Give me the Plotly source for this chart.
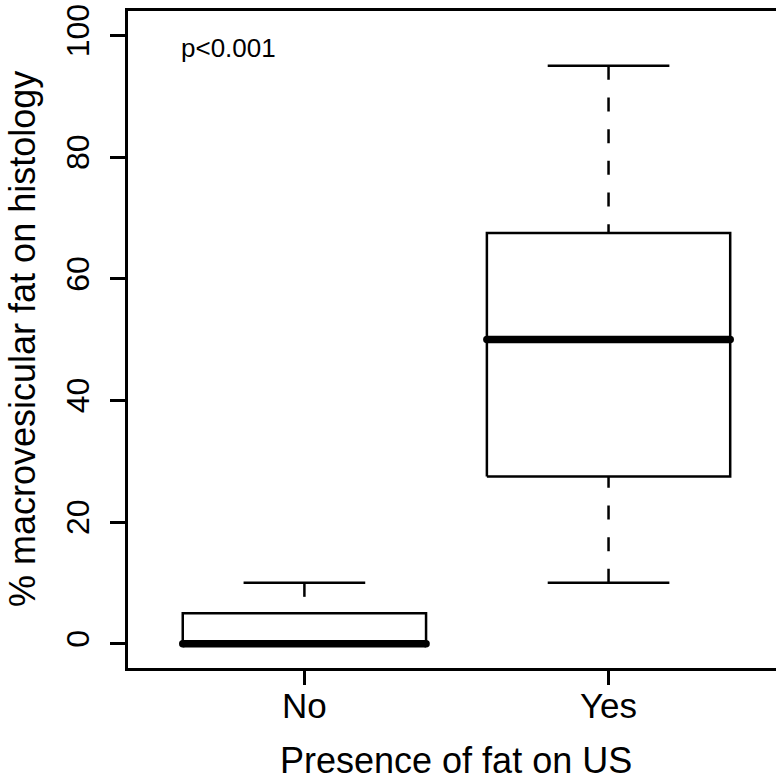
import plotly.graph_objects as go

# ---- data ----
groups = ["No", "Yes"]
positions = [1, 2]
lower_whisker = [0, 10]
q1 = [0, 27.5]
median = [0, 50]
q3 = [5, 67.5]
upper_whisker = [10, 95]
y_ticks = [0, 20, 40, 60, 80, 100]
p_text = "p<0.001"
x_title = "Presence of fat on US"
y_title = "% macrovesicular fat on histology"

# ---- style ----
BOX_HALF = 0.4
CAP_HALF = 0.2
LW = 2.5
FONT = "Liberation Sans, Arial, Helvetica, sans-serif"
BLACK = "black"

fig = go.Figure()
for c, lo, a, m, b, hi in zip(positions, lower_whisker, q1, median, q3, upper_whisker):
    dash = dict(color=BLACK, width=LW, dash="14px,17.7px")
    # whiskers (drawn from the whisker end toward the hinge, like R)
    fig.add_trace(go.Scatter(x=[c, c], y=[hi, b], mode="lines", line=dash,
                             hoverinfo="skip", showlegend=False))
    fig.add_trace(go.Scatter(x=[c, c], y=[lo, a], mode="lines", line=dash,
                             hoverinfo="skip", showlegend=False))
    # staples
    for v in (hi, lo):
        fig.add_trace(go.Scatter(x=[c - CAP_HALF, c + CAP_HALF], y=[v, v], mode="lines",
                                 line=dict(color=BLACK, width=LW),
                                 hoverinfo="skip", showlegend=False))
    # box
    fig.add_trace(go.Scatter(x=[c - BOX_HALF, c + BOX_HALF, c + BOX_HALF, c - BOX_HALF, c - BOX_HALF],
                             y=[a, a, b, b, a], mode="lines",
                             line=dict(color=BLACK, width=LW),
                             fill="toself", fillcolor="white",
                             hoverinfo="skip", showlegend=False))
    # median
    fig.add_trace(go.Scatter(x=[c - BOX_HALF, c + BOX_HALF], y=[m, m], mode="lines+markers",
                             line=dict(color=BLACK, width=7.5),
                             marker=dict(color=BLACK, size=7.5, symbol="circle"),
                             hoverinfo="skip", showlegend=False))

fig.add_annotation(x=0.75, y=98, xref="x", yref="y", text=p_text, showarrow=False,
                   font=dict(family=FONT, size=26, color=BLACK),
                   xanchor="center", yanchor="middle")
fig.add_annotation(x=1.5, y=0, xref="x", yref="paper", text=x_title, showarrow=False,
                   font=dict(family=FONT, size=36, color=BLACK),
                   xanchor="center", yanchor="top", yshift=-70)
fig.add_annotation(x=0, y=0.5, xref="paper", yref="paper", text=y_title, showarrow=False,
                   font=dict(family=FONT, size=36, color=BLACK), textangle=-90,
                   xanchor="right", yanchor="middle", xshift=-83)

fig.update_layout(
    width=776, height=781,
    margin=dict(l=128, r=0, t=11, b=113),
    paper_bgcolor="white", plot_bgcolor="white",
    font=dict(family=FONT, size=35, color=BLACK),
    showlegend=False,
    xaxis=dict(range=[0.42, 2.5506], tickvals=positions, ticktext=groups,
               ticks="outside", ticklen=14, tickwidth=LW, tickcolor=BLACK,
               showline=True, linecolor=BLACK, linewidth=LW, mirror=True,
               showgrid=False, zeroline=False, tickfont=dict(size=35),
               automargin=False, ticklabelstandoff=-9),
    yaxis=dict(range=[-4, 104], tickvals=y_ticks, ticktext=[str(v) for v in y_ticks],
               ticks="outside", ticklen=15, tickwidth=LW, tickcolor=BLACK,
               showline=True, linecolor=BLACK, linewidth=LW, mirror=False,
               showgrid=False, zeroline=False, tickangle=-90, tickfont=dict(size=32),
               automargin=False, ticklabelstandoff=8, ticklabeloverflow="allow"),
)

# remove the browser's default 8px page margin so the figure fills the window
fig.write_html("out.html", config={"displayModeBar": False},
               post_script="document.body.style.margin='0';document.body.style.overflow='hidden';")
